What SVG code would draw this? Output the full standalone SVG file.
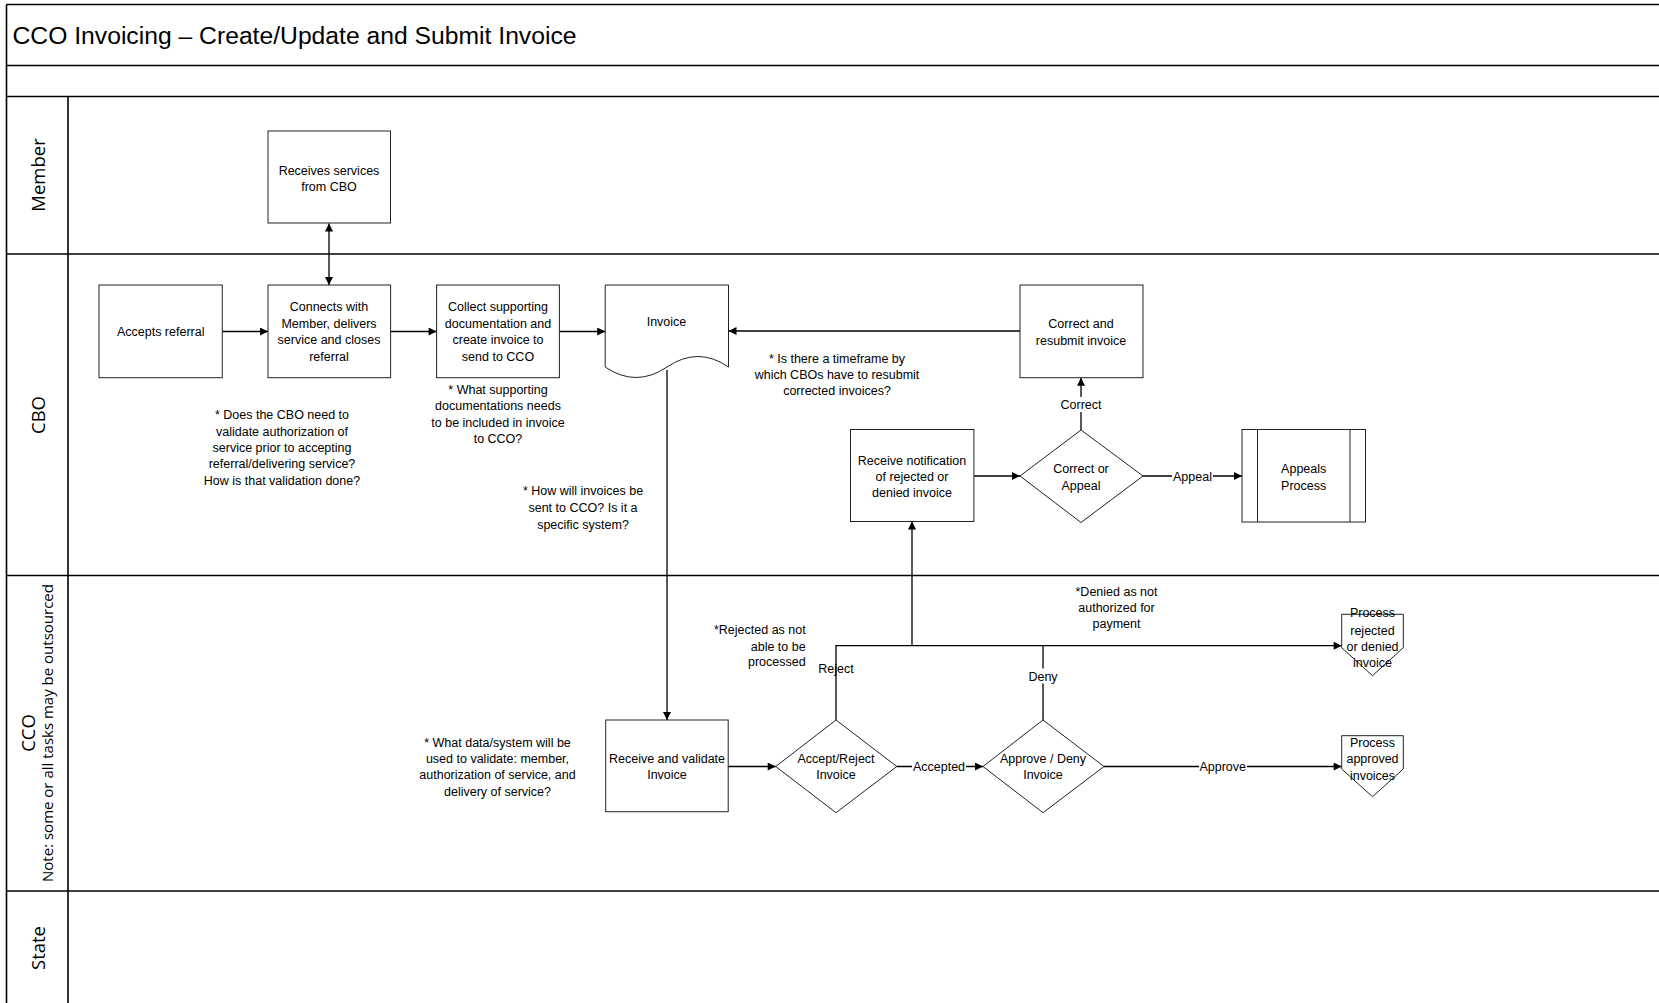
<svg xmlns="http://www.w3.org/2000/svg" width="1659" height="1003" viewBox="0 0 1659 1003">
<style>
.frame{stroke:#000;stroke-width:1.6;fill:none}
.shape{fill:#fff;stroke:#222;stroke-width:1}
.conn{fill:none;stroke:#000;stroke-width:1.3}
.t{font-family:"Liberation Sans",Arial,sans-serif;font-size:12.5px;fill:#000;text-anchor:middle}
.lane{font-family:"Open Sans","Liberation Sans",sans-serif;font-size:18.5px;fill:#000;text-anchor:middle}
.title{font-family:"Liberation Sans",Arial,sans-serif;font-size:24.7px;fill:#000}
.bg{fill:#fff}
</style>
<defs>
<marker id="arr" viewBox="0 0 10 10" refX="10" refY="5" markerWidth="9" markerHeight="8" markerUnits="userSpaceOnUse" orient="auto-start-reverse">
<path d="M0,0 L10,5 L0,10 z" fill="#000"/>
</marker>
</defs>
<rect x="0" y="0" width="1659" height="1003" fill="#fff"/>

<g id="frame">
<path class="frame" d="M6.5,4.5 H1659 M6.5,4.5 V1003 M6.5,65.5 H1659 M6.5,96.5 H1659 M6.5,254 H1659 M6.5,575.5 H1659 M6.5,891 H1659 M68,96.5 V1003"/>
<text class="title" x="12.5" y="43.5">CCO Invoicing – Create/Update and Submit Invoice</text>
</g>

<g id="lanes">
<text class="lane" transform="translate(45,175) rotate(-90)">Member</text>
<text class="lane" transform="translate(45,415) rotate(-90)">CBO</text>
<text class="lane" transform="translate(35,733) rotate(-90)">CCO</text>
<text class="lane" style="font-size:15px" transform="translate(53,733) rotate(-90)">Note: some or all tasks may be outsourced</text>
<text class="lane" transform="translate(45,948) rotate(-90)">State</text>
</g>

<g id="connectors">
<path class="conn" d="M329,223.5 V285" marker-start="url(#arr)" marker-end="url(#arr)"/>
<path class="conn" d="M222.3,331.5 H268" marker-end="url(#arr)"/>
<path class="conn" d="M390.6,331.5 H436.6" marker-end="url(#arr)"/>
<path class="conn" d="M559.4,331.5 H605.2" marker-end="url(#arr)"/>
<path class="conn" d="M1020,331 H728.5" marker-end="url(#arr)"/>
<path class="conn" d="M667,370 V720" marker-end="url(#arr)"/>
<path class="conn" d="M728.3,766.5 H775.7" marker-end="url(#arr)"/>
<path class="conn" d="M896.8,766.5 H983" marker-end="url(#arr)"/>
<path class="conn" d="M1104,766.5 H1341.7" marker-end="url(#arr)"/>
<path class="conn" d="M836,720 V645.7 H1341.7" marker-end="url(#arr)"/>
<path class="conn" d="M1043,720 V645.7"/>
<path class="conn" d="M912,645.7 V521.5" marker-end="url(#arr)"/>
<path class="conn" d="M974,476 H1020" marker-end="url(#arr)"/>
<path class="conn" d="M1081,430 V377.8" marker-end="url(#arr)"/>
<path class="conn" d="M1143,476 H1242" marker-end="url(#arr)"/>
<rect class="bg" x="912" y="759" width="54" height="15"/>
<text class="t" x="939" y="771">Accepted</text>
<rect class="bg" x="1199" y="759" width="48" height="15"/>
<text class="t" x="1222.7" y="771">Approve</text>
<text class="t" x="836" y="672.8">Reject</text>
<rect class="bg" x="1027.5" y="668.5" width="31" height="15"/>
<text class="t" x="1043" y="680.5">Deny</text>
<rect class="bg" x="1059.5" y="397" width="43" height="15"/>
<text class="t" x="1081" y="408.8">Correct</text>
<rect class="bg" x="1172" y="468.5" width="41" height="15"/>
<text class="t" x="1192.5" y="480.5">Appeal</text>
</g>

<g id="receives-services">
<rect class="shape" x="268" y="131" width="122.5" height="92"/>
<text class="t" x="329" y="174.5">Receives services</text>
<text class="t" x="329" y="191.2">from CBO</text>
</g>

<g id="accepts-referral">
<rect class="shape" x="99" y="285" width="123.3" height="92.7"/>
<text class="t" x="160.7" y="336.2">Accepts referral</text>
</g>

<g id="connects-member">
<rect class="shape" x="268" y="285" width="122.6" height="92.7"/>
<text class="t" x="329" y="311.2">Connects with</text>
<text class="t" x="329" y="327.5">Member, delivers</text>
<text class="t" x="329" y="343.8">service and closes</text>
<text class="t" x="329" y="360.5">referral</text>
</g>

<g id="collect-docs">
<rect class="shape" x="436.6" y="285" width="122.8" height="92.7"/>
<text class="t" x="498" y="311.2">Collect supporting</text>
<text class="t" x="498" y="327.5">documentation and</text>
<text class="t" x="498" y="343.8">create invoice to</text>
<text class="t" x="498" y="360.5">send to CCO</text>
</g>

<g id="invoice-doc">
<path class="shape" d="M605.2,285 H728.5 V367 Q698,346 667,367 Q636,388 605.2,367 Z"/>
<text class="t" x="666.5" y="326.2">Invoice</text>
</g>

<g id="correct-resubmit">
<rect class="shape" x="1020" y="285" width="123" height="92.7"/>
<text class="t" x="1081" y="327.8">Correct and</text>
<text class="t" x="1081" y="344.5">resubmit invoice</text>
</g>

<g id="receive-notification">
<rect class="shape" x="850.5" y="429.5" width="123.4" height="92"/>
<text class="t" x="912" y="465.2">Receive notification</text>
<text class="t" x="912" y="481.2">of rejected or</text>
<text class="t" x="912" y="496.8">denied invoice</text>
</g>

<g id="correct-or-appeal">
<path class="shape" d="M1081,430 L1143,476 L1081,522.5 L1020,476 Z"/>
<text class="t" x="1081" y="472.8">Correct or</text>
<text class="t" x="1081" y="489.5">Appeal</text>
</g>

<g id="appeals-process">
<rect class="shape" x="1242" y="429.5" width="123.5" height="92.5"/>
<path class="shape" d="M1257.5,429.5 V522 M1350,429.5 V522"/>
<text class="t" x="1303.7" y="472.5">Appeals</text>
<text class="t" x="1303.7" y="489.5">Process</text>
</g>

<g id="receive-validate">
<rect class="shape" x="605.7" y="720" width="122.5" height="91.7"/>
<text class="t" x="667" y="762.8">Receive and validate</text>
<text class="t" x="667" y="778.8">Invoice</text>
</g>

<g id="accept-reject">
<path class="shape" d="M836,720 L896.8,766.5 L836,812.7 L775.7,766.5 Z"/>
<text class="t" x="836" y="762.8">Accept/Reject</text>
<text class="t" x="836" y="778.8">Invoice</text>
</g>

<g id="approve-deny">
<path class="shape" d="M1043,720 L1104,766.5 L1043,812.7 L983,766.5 Z"/>
<text class="t" x="1043" y="762.8">Approve / Deny</text>
<text class="t" x="1043" y="778.8">Invoice</text>
</g>

<g id="process-rejected">
<path class="shape" d="M1341.7,614.3 H1403.3 V647.7 L1372.5,675.7 L1341.7,647.7 Z"/>
<text class="t" x="1372.5" y="617.2">Process</text>
<text class="t" x="1372.5" y="634.5">rejected</text>
<text class="t" x="1372.5" y="650.5">or denied</text>
<text class="t" x="1372.5" y="667.2">invoice</text>
</g>

<g id="process-approved">
<path class="shape" d="M1341.7,735.7 H1403.3 V769 L1372.5,796.7 L1341.7,769 Z"/>
<text class="t" x="1372.5" y="746.8">Process</text>
<text class="t" x="1372.5" y="763.2">approved</text>
<text class="t" x="1372.5" y="779.5">invoices</text>
</g>

<g id="notes">
<text class="t" x="282" y="418.8">* Does the CBO need to</text>
<text class="t" x="282" y="435.5">validate authorization of</text>
<text class="t" x="282" y="451.8">service prior to accepting</text>
<text class="t" x="282" y="468.2">referral/delivering service?</text>
<text class="t" x="282" y="484.5">How is that validation done?</text>
<text class="t" x="498" y="393.8">* What supporting</text>
<text class="t" x="498" y="410.2">documentations needs</text>
<text class="t" x="498" y="426.8">to be included in invoice</text>
<text class="t" x="498" y="443.2">to CCO?</text>
<text class="t" x="583" y="495.2">* How will invoices be</text>
<text class="t" x="583" y="511.8">sent to CCO? Is it a</text>
<text class="t" x="583" y="528.5">specific system?</text>
<text class="t" x="837" y="363">* Is there a timeframe by</text>
<text class="t" x="837" y="378.8">which CBOs have to resubmit</text>
<text class="t" x="837" y="395.3">corrected invoices?</text>
<text class="t" style="text-anchor:end" x="805.7" y="633.8">*Rejected as not</text>
<text class="t" style="text-anchor:end" x="805.7" y="650.5">able to be</text>
<text class="t" style="text-anchor:end" x="805.7" y="666.2">processed</text>
<text class="t" x="1116.5" y="595.5">*Denied as not</text>
<text class="t" x="1116.5" y="611.8">authorized for</text>
<text class="t" x="1116.5" y="627.8">payment</text>
<text class="t" x="497.5" y="747.2">* What data/system will be</text>
<text class="t" x="497.5" y="763.2">used to validate: member,</text>
<text class="t" x="497.5" y="779.2">authorization of service, and</text>
<text class="t" x="497.5" y="795.5">delivery of service?</text>
</g>
</svg>
